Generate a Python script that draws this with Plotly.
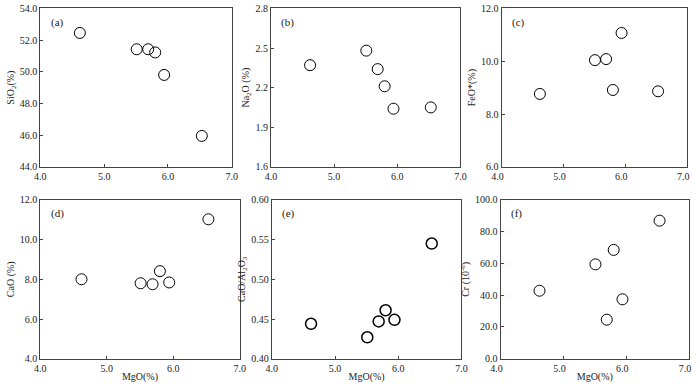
import plotly.graph_objects as go
from plotly.subplots import make_subplots

# MgO (%) shared by every panel
mgo = [4.62, 5.51, 5.69, 5.80, 5.94, 6.53]

sio2 = [52.45, 51.42, 51.42, 51.22, 49.80, 45.95]
na2o = [2.37, 2.48, 2.34, 2.21, 2.04, 2.05]
feo = [8.76, 10.04, 10.08, 8.91, 11.07, 8.86]
cao = [8.00, 7.80, 7.75, 8.41, 7.84, 11.02]
cao_al2o3 = [0.444, 0.427, 0.447, 0.461, 0.449, 0.545]
cr = [42.8, 59.4, 24.6, 68.5, 37.4, 86.9]

panels = ["(a)", "(b)", "(c)", "(d)", "(e)", "(f)"]
ytitles = ["SiO<sub>2</sub>(%)", "Na<sub>2</sub>O (%)", "FeO*(%)",
           "CaO (%)", "CaO/Al<sub>2</sub>O<sub>3</sub>", "Cr (10<sup>-6</sup>)"]
yranges = [(44, 54, 2, ".1f"), (1.6, 2.8, 0.3, ".1f"), (6, 12, 2, ".1f"),
           (4, 12, 2, ".1f"), (0.40, 0.60, 0.05, ".2f"), (0, 100, 20, ".1f")]
series = [sio2, na2o, feo, cao, cao_al2o3, cr]

W, H = 700, 390
# frame boxes in pixels: left, right, top, bottom
boxes = [(31, 227, 3.5, 166.5), (267, 461, 3.5, 166.5), (503, 693, 3.5, 166.5),
         (31, 235, 200.5, 364), (268, 462, 200.5, 364), (502, 695, 200.5, 364)]

fig = make_subplots(rows=2, cols=3)
font = "Liberation Serif, Times New Roman, serif"
txt = "#222"

for i, ys in enumerate(series):
    r, c = i // 3 + 1, i % 3 + 1
    fig.add_trace(go.Scatter(x=mgo, y=ys, mode="markers", showlegend=False,
                             marker=dict(symbol="circle-open", size=11,
                                         color="black",
                                         line=dict(width=1.5 if i == 4 else 1, color="black"))),
                  row=r, col=c)
    l, rr, t, b = boxes[i]
    lo, hi, step, fmt = yranges[i]
    fig.update_xaxes(range=[4, 7], tick0=4, dtick=1, tickformat=".1f",
                     domain=[l / W, rr / W], ticks="inside", ticklen=3,
                     ticklabelshift=-4 if c == 3 else 0,
                     showline=True, mirror=True, linecolor="#444", linewidth=1,
                     showgrid=False, zeroline=False,
                     tickfont=dict(family=font, size=10, color=txt),
                     title=dict(text="MgO(%)" if r == 2 else "", standoff=0,
                                font=dict(family=font, size=10, color=txt)),
                     row=r, col=c)
    fig.update_yaxes(range=[lo, hi], tick0=lo, dtick=step, tickformat=fmt,
                     domain=[1 - b / H, 1 - t / H], ticks="inside", ticklen=3,
                     showline=True, mirror=True, linecolor="#444", linewidth=1,
                     showgrid=False, zeroline=False,
                     tickfont=dict(family=font, size=10, color=txt),
                     title=dict(text=ytitles[i], standoff=3,
                                font=dict(family=font, size=10, color=txt)),
                     row=r, col=c)
    xref = "x domain" if i == 0 else "x%d domain" % (i + 1)
    yref = "y domain" if i == 0 else "y%d domain" % (i + 1)
    fig.add_annotation(text=panels[i], xref=xref, yref=yref, x=0.045, y=0.965,
                       xanchor="left", yanchor="top", showarrow=False,
                       font=dict(family=font, size=11, color=txt))

fig.update_layout(width=W, height=H, margin=dict(l=0, r=0, t=0, b=0),
                  plot_bgcolor="white", paper_bgcolor="white")
# drop the browser's default body margin so the figure fills the window
fig.write_html("out.html", config={"displayModeBar": False},
               post_script="document.body.style.margin='0';")
